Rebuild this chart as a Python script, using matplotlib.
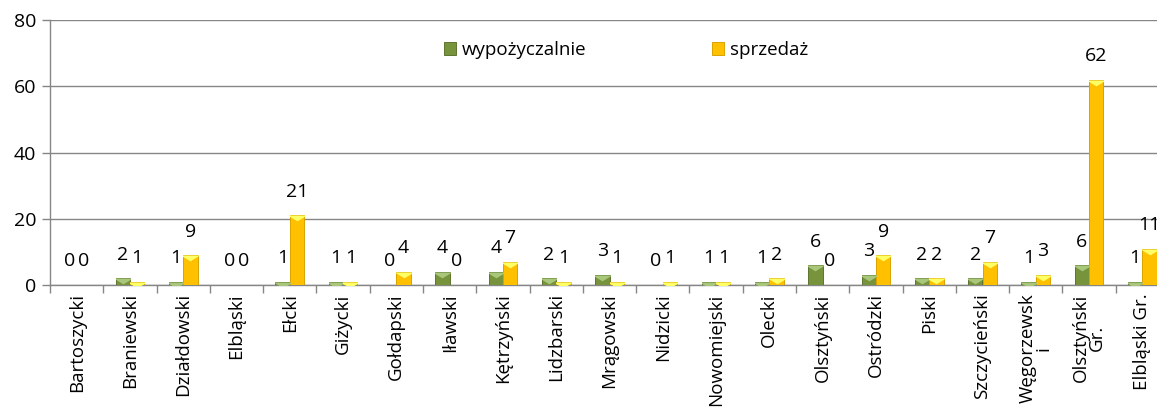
import matplotlib.pyplot as plt
import numpy as np
from matplotlib.path import Path

# ======================================================
# DATA
# ======================================================
categories = ["Bartoszycki", "Braniewski", "Działdowski", "Elbląski", "Ełcki",
              "Giżycki", "Gołdapski", "Iławski", "Kętrzyński", "Lidzbarski",
              "Mrągowski", "Nidzicki", "Nowomiejski", "Olecki", "Olsztyński",
              "Ostródzki", "Piski", "Szczycieński", "Węgorzewsk\ni",
              "Olsztyński\nGr.", "Elbląski Gr."]
wypozyczalnie = [0, 2, 1, 0, 1, 1, 0, 4, 4, 2, 3, 0, 1, 1, 6, 3, 2, 2, 1, 6, 1]
sprzedaz = [0, 1, 9, 0, 21, 1, 4, 0, 7, 1, 1, 1, 1, 2, 0, 9, 2, 7, 3, 62, 11]
series_names = ["wypożyczalnie", "sprzedaż"]
y_ticks = [0, 20, 40, 60, 80]

# ======================================================
# STYLE
# ======================================================
plt.rcParams["font.family"] = ["Open Sans", "DejaVu Sans"]
fs = 14

green = "#77933C"
green_edge = "#5E7530"
green_top = "#A9C77A"
yellow = "#FFC000"
yellow_edge = "#D9A300"
yellow_top = "#FFFF66"
grid_col = "#868686"

fig = plt.figure(figsize=(11.57, 4.08), dpi=100)
ax = fig.add_axes([50 / 1157, 123 / 408, 1119 / 1157, 265 / 408])

x = np.arange(len(categories))
w = 0.27

# top bevel triangle (top edge at the anchor point)
tri = Path([(-1, 0), (1, 0), (0, -0.6), (-1, 0)],
           [Path.MOVETO, Path.LINETO, Path.LINETO, Path.CLOSEPOLY])

def draw(vals, offset, fc, ec, tc, name):
    bars = ax.bar(x + offset, vals, w, color=fc, edgecolor=ec, linewidth=0.7,
                  label=name, zorder=3)
    for b, v in zip(bars, vals):
        cx = b.get_x() + b.get_width() / 2
        if v > 0:
            m, = ax.plot(cx, v, marker=tri, markersize=14, color=tc,
                         markeredgewidth=0, zorder=4)
            m.set_clip_path(b)
        ax.annotate(str(v), (cx, v), xytext=(0, 17), textcoords="offset points",
                    ha="center", va="center", fontsize=fs, color="black")
    return bars

draw(wypozyczalnie, -w / 2, green, green_edge, green_top, series_names[0])
draw(sprzedaz, w / 2, yellow, yellow_edge, yellow_top, series_names[1])

# ======================================================
# AXES
# ======================================================
ax.set_xlim(-0.5, len(categories) - 0.5)
ax.set_ylim(0, 80)
ax.set_yticks(y_ticks)
ax.set_yticklabels([str(t) for t in y_ticks], fontsize=fs)
ax.yaxis.grid(True, color=grid_col, linewidth=1, zorder=0)
ax.set_axisbelow(True)

ax.set_xticks(x)
ax.set_xticklabels(categories, rotation=90, ha="center", va="top",
                   fontsize=fs - 0.5, linespacing=0.85)
ax.tick_params(axis="x", length=0, pad=6)
ax.set_xticks(np.arange(-0.5, len(categories) + 0.5, 1), minor=True)
ax.tick_params(axis="x", which="minor", length=6, color=grid_col, width=1)
ax.tick_params(axis="y", length=6, color=grid_col, width=1, pad=4)

for s in ["top", "right"]:
    ax.spines[s].set_visible(False)
for s in ["left", "bottom"]:
    ax.spines[s].set_color(grid_col)
    ax.spines[s].set_linewidth(1)

ax.legend(loc="center left", bbox_to_anchor=(0.352, 0.887), ncol=2,
          frameon=False, borderpad=0, borderaxespad=0,
          handlelength=0.65, handleheight=0.65, handletextpad=0.3,
          columnspacing=6.7, fontsize=13.5)

fig.savefig("out.png", dpi=100)
